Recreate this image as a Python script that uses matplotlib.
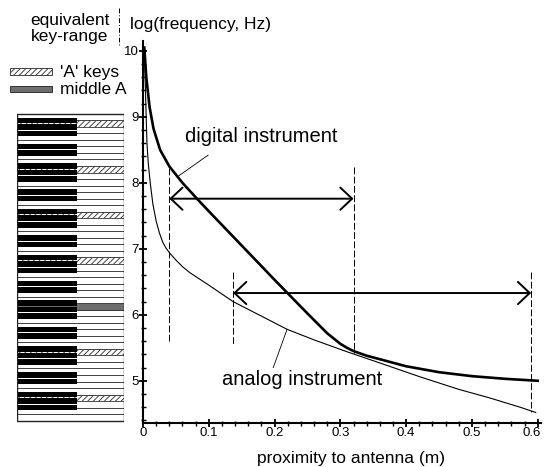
import numpy as np
import matplotlib
matplotlib.use('Agg')
import matplotlib.pyplot as plt
from matplotlib.patches import Rectangle, FancyArrowPatch
from matplotlib.ticker import MultipleLocator
from matplotlib.transforms import ScaledTranslation

plt.rcParams['font.family'] = ['Liberation Sans', 'DejaVu Sans']
plt.rcParams['hatch.linewidth'] = 0.7

# ---------------- data ----------------
digital_x = [0.002, 0.005, 0.01, 0.016, 0.026, 0.04, 0.06, 0.082, 0.1, 0.15, 0.2,
             0.25, 0.27, 0.28, 0.29, 0.30, 0.31, 0.32, 0.34, 0.37, 0.40, 0.45, 0.50, 0.55, 0.60]
digital_y = [10.05, 9.6, 9.15, 8.82, 8.5, 8.25, 8.0, 7.76, 7.57, 7.05, 6.53,
             6.02, 5.82, 5.72, 5.64, 5.56, 5.50, 5.45, 5.38, 5.30, 5.22, 5.13, 5.07, 5.03, 5.0]

analog_x = [0.002, 0.004, 0.006, 0.008, 0.011, 0.015, 0.02, 0.025, 0.03, 0.035, 0.041,
            0.05, 0.06, 0.071, 0.1, 0.137, 0.18, 0.219, 0.26, 0.31, 0.36, 0.421, 0.48,
            0.527, 0.573, 0.597]
analog_y = [10.0, 9.3, 8.6, 8.3, 8.0, 7.68, 7.42, 7.24, 7.1, 7.01, 6.93,
            6.83, 6.73, 6.64, 6.45, 6.2, 5.98, 5.78, 5.62, 5.44, 5.27, 5.06, 4.87,
            4.74, 4.6, 4.52]

digital_range = [0.04, 0.32]
digital_range_y = 7.76
digital_dash_left = [8.22, 5.58]
digital_dash_right = [8.24, 5.42]
analog_range = [0.137, 0.59]
analog_range_y = 6.33
analog_dash_left = [6.65, 5.55]
analog_dash_right = [6.65, 4.52]

x_ticks = [0, 0.1, 0.2, 0.3, 0.4, 0.5, 0.6]
x_tick_labels = ['0', '0.1', '0.2', '0.3', '0.4', '0.5', '0.6']
y_ticks = [5, 6, 7, 8, 9, 10]
y_tick_labels = ['5', '6', '7', '8', '9', '10']

# keyboard (white keys from E2 up to B8, A keys marked, A4 = middle A)
natural_names = ['C', 'D', 'E', 'F', 'G', 'A', 'B']
lowest_key = ('E', 2)
highest_key = ('B', 8)
middle_a = ('A', 4)
middle_a_freq = 440.0
key_offset = 0.04
sharp_after = ['C', 'D', 'F', 'G', 'A']

# ---------------- figure ----------------
fig = plt.figure(figsize=(5.45, 4.67), dpi=100)
W, H = 545, 467
ylim = (4.36, 10.15)
ax = fig.add_axes([143 / W, 44 / H, 398 / W, 382 / H])

ax.plot(digital_x, digital_y, color='black', lw=1.9, solid_joinstyle='round')
ax.plot(analog_x, analog_y, color='black', lw=0.8)

dash = (0, (7, 2.5))
for xv, (y0, y1) in [(digital_range[0], digital_dash_left), (digital_range[1], digital_dash_right),
                     (analog_range[0], analog_dash_left), (analog_range[1], analog_dash_right)]:
    ax.plot([xv, xv], [y0, y1], color='black', lw=0.7, ls=dash)

for (x0, x1), yv in [(digital_range, digital_range_y), (analog_range, analog_range_y)]:
    arr = FancyArrowPatch((x0, yv), (x1, yv), arrowstyle='<->,head_length=8.5,head_width=8',
                          mutation_scale=1, lw=1.4, color='black', shrinkA=0, shrinkB=0)
    ax.add_patch(arr)

ax.text(0.064, 8.70, 'digital instrument', fontsize=14.5, ha='left', va='center')
ax.plot([0.099, 0.052], [8.42, 8.09], color='black', lw=0.6)
ax.text(0.120, 5.02, 'analog instrument', fontsize=14.5, ha='left', va='center')
ax.plot([0.219, 0.198], [5.78, 5.20], color='black', lw=0.6)

ax.set_xlim(0, 0.605)
ax.set_ylim(*ylim)
ax.set_xticks(x_ticks)
ax.set_xticklabels(x_tick_labels)
ax.set_yticks(y_ticks)
ax.set_yticklabels(y_tick_labels)
ax.xaxis.set_minor_locator(MultipleLocator(0.02))
ax.yaxis.set_minor_locator(MultipleLocator(0.2))
ax.tick_params(which='major', direction='inout', length=6, width=1.3, labelsize=9.5, pad=0)
ax.tick_params(which='minor', direction='inout', length=3.6, width=1.0)
for s in ['top', 'right']:
    ax.spines[s].set_visible(False)
for s in ['left', 'bottom']:
    ax.spines[s].set_linewidth(1.5)
last = ax.get_xticklabels()[-1]
last.set_transform(last.get_transform() + ScaledTranslation(-4 / 72, 0, fig.dpi_scale_trans))

# ---------------- keyboard ----------------
kb = fig.add_axes([17 / W, 44 / H, 107 / W, 382 / H])
kb.set_xlim(0, 1)
kb.set_ylim(*ylim)
kb.axis('off')

step = np.log(2) / 7
idx_of = lambda name, octv: octv * 7 + natural_names.index(name)
i_lo, i_hi = idx_of(*lowest_key), idx_of(*highest_key)
i_mid = idx_of(*middle_a)
base = np.log(middle_a_freq) + key_offset
black_w = 0.56
for i in range(i_lo, i_hi + 1):
    c = base + (i - i_mid) * step
    name = natural_names[i % 7]
    if i == i_mid:
        kb.add_patch(Rectangle((0, c - step / 2), 1, step, facecolor='#6e6e6e',
                               edgecolor='#333333', lw=0.6))
    elif name == 'A':
        kb.add_patch(Rectangle((0, c - step / 2), 1, step, facecolor='white',
                               edgecolor='#444444', lw=0.6, hatch='//////'))
    else:
        kb.add_patch(Rectangle((0, c - step / 2), 1, step, facecolor='white',
                               edgecolor='#333333', lw=0.6))
for i in range(i_lo, i_hi):
    if natural_names[i % 7] in sharp_after:
        c = base + (i - i_mid + 0.5) * step
        kb.add_patch(Rectangle((0, c - 0.42 * step), black_w, 0.84 * step,
                               facecolor='black', edgecolor='none', zorder=3))
kb_lo = base + (i_lo - i_mid - 0.5) * step
kb_hi = base + (i_hi - i_mid + 0.5) * step
kb.add_patch(Rectangle((0, kb_lo), 1, kb_hi - kb_lo, facecolor='none',
                       edgecolor='#222222', lw=1.0, zorder=4))

# ---------------- overlay text (pixel coordinates) ----------------
ov = fig.add_axes([0, 0, 1, 1])
ov.set_xlim(0, W)
ov.set_ylim(H, 0)
ov.axis('off')
ov.text(70, 20, 'equivalent', fontsize=12.5, ha='center', va='center')
ov.text(70, 36, 'key-range', fontsize=12.5, ha='center', va='center')
ov.plot([119, 119], [8, 46], color='black', lw=0.7, ls=(0, (5, 2, 1, 2)))
ov.text(130, 25, 'log(frequency, Hz)', fontsize=12.5, ha='left', va='center')
ov.text(351, 458, 'proximity to antenna (m)', fontsize=12.5, ha='center', va='center')
ov.add_patch(Rectangle((10, 68), 42, 7, facecolor='white', edgecolor='#444444',
                       lw=0.7, hatch='//////'))
ov.text(60, 72, "'A' keys", fontsize=12.5, ha='left', va='center')
ov.add_patch(Rectangle((10, 86), 42, 6, facecolor='#6e6e6e', edgecolor='#333333', lw=0.7))
ov.text(60, 90, 'middle A', fontsize=12.5, ha='left', va='center')

fig.savefig('out.png', dpi=100)
